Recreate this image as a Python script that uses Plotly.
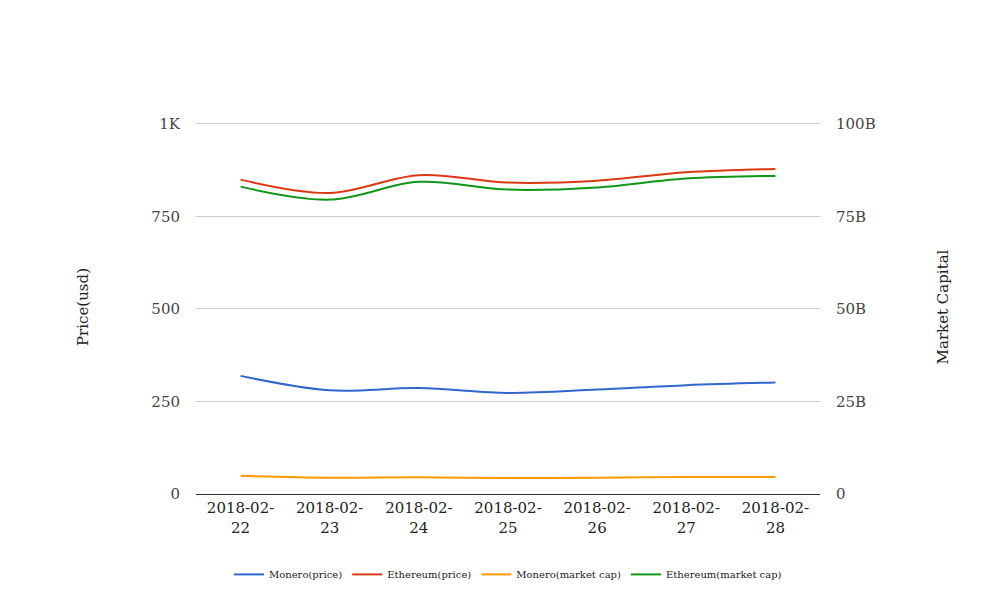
import plotly.graph_objects as go

dates = ["2018-02-22", "2018-02-23", "2018-02-24", "2018-02-25", "2018-02-26", "2018-02-27", "2018-02-28"]
monero_price = [319, 280, 286, 273, 282, 294, 301]
ethereum_price = [849, 813, 861, 841, 846, 869, 878]
monero_cap = [4.9e9, 4.4e9, 4.5e9, 4.3e9, 4.4e9, 4.6e9, 4.6e9]
ethereum_cap = [83.0e9, 79.5e9, 84.3e9, 82.2e9, 82.8e9, 85.2e9, 85.9e9]

price_ticks = [0, 250, 500, 750, 1000]
price_labels = ["0", "250", "500", "750", "1K"]
cap_ticks = [0, 25e9, 50e9, 75e9, 100e9]
cap_labels = ["0", "25B", "50B", "75B", "100B"]
x_labels = [d[:8] + "<br>" + d[8:] for d in dates]

FONT = "DejaVu Serif"
fig = go.Figure()
fig.add_trace(go.Scatter(x=dates, y=monero_price, name="Monero(price)", mode="lines",
                         line=dict(color="#3366cc", width=2, shape="spline"), yaxis="y"))
fig.add_trace(go.Scatter(x=dates, y=ethereum_price, name="Ethereum(price)", mode="lines",
                         line=dict(color="#dc3912", width=2, shape="spline"), yaxis="y"))
fig.add_trace(go.Scatter(x=dates, y=monero_cap, name="Monero(market cap)", mode="lines",
                         line=dict(color="#ff9900", width=2, shape="spline"), yaxis="y2"))
fig.add_trace(go.Scatter(x=dates, y=ethereum_cap, name="Ethereum(market cap)", mode="lines",
                         line=dict(color="#109618", width=2, shape="spline"), yaxis="y2"))

fig.update_layout(
    width=1000, height=600,
    paper_bgcolor="white", plot_bgcolor="white",
    margin=dict(l=188, r=188, t=112, b=114),
    font=dict(family=FONT, color="#444444", size=15),
    xaxis=dict(type="category", range=[-0.5, 6.5], tickvals=dates, ticktext=x_labels,
               showgrid=False, showline=True, linecolor="#333333", linewidth=1,
               ticks="", tickfont=dict(size=15, color="#222222"), automargin=False),
    yaxis=dict(range=[0, 1010], tickvals=price_ticks, ticktext=price_labels,
               showgrid=True, gridcolor="#cccccc", zeroline=False, ticks="",
               ticklabelstandoff=15, automargin=False,
               title=dict(text="Price(usd)", font=dict(size=15, color="#222222"), standoff=59)),
    yaxis2=dict(range=[0, 101e9], tickvals=cap_ticks, ticktext=cap_labels, overlaying="y",
                side="right", showgrid=False, zeroline=False, ticks="",
                ticklabelstandoff=15, automargin=False,
                title=dict(text="Market Capital", font=dict(size=15, color="#222222"), standoff=62)),
    legend=dict(orientation="h", x=0.5, xanchor="center", y=-0.215, yanchor="middle",
                font=dict(size=10, color="#222222")),
    showlegend=True,
)

fig.write_html("out.html")
